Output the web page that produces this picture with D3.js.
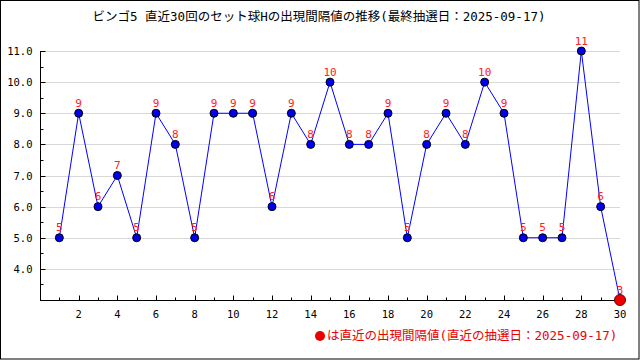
<!DOCTYPE html>
<html lang="ja">
<head>
<meta charset="UTF-8" />
<title>ビンゴ5 セット球H 出現間隔値の推移</title>
<script src="https://cdn.jsdelivr.net/npm/d3@7"></script>
<style>
  body { margin: 0; background: #fff; }
  text { font-family: "DejaVu Sans Mono", "Noto Sans CJK JP", monospace; }
</style>
</head>
<body>
<svg id="chart"></svg>
<script>
  // 直近30回の出現間隔値
  const draws = d3.range(1, 31);
  const intervals = [5, 9, 6, 7, 5, 9, 8, 5, 9, 9, 9, 6, 9, 8, 10, 8, 8, 9, 5, 8, 9, 8, 10, 9, 5, 5, 5, 11, 6, 3];
  const yTicks = [4, 5, 6, 7, 8, 9, 10, 11];
  const xLabels = [2, 4, 6, 8, 10, 12, 14, 16, 18, 20, 22, 24, 26, 28, 30];
  const title = "ビンゴ5 直近30回のセット球Hの出現間隔値の推移(最終抽選日：2025-09-17)";
  const legendText = "は直近の出現間隔値(直近の抽選日：2025-09-17)";

  const W = 640, H = 360;
  const svg = d3.select("#chart").attr("width", W).attr("height", H);

  // 外枠
  svg.append("rect")
    .attr("x", 0.5).attr("y", 0.5)
    .attr("width", W - 1.5).attr("height", H - 1.5)
    .attr("fill", "#fff").attr("stroke", "#000").attr("stroke-width", 1);

  const x = d3.scaleLinear().domain([0, 30]).range([40, 620]);
  const y = d3.scaleLinear().domain([3, 11]).range([300, 51]);

  svg.append("text")
    .attr("x", 319).attr("y", 21)
    .attr("text-anchor", "middle")
    .attr("font-size", 12.5)
    .text(title);

  // グリッド線
  svg.append("g").selectAll("line").data(yTicks).join("line")
    .attr("x1", 41).attr("x2", 620)
    .attr("y1", d => Math.round(y(d)) + 0.5).attr("y2", d => Math.round(y(d)) + 0.5)
    .attr("stroke", "#d8d8d8");

  // Y軸
  const gy = svg.append("g").attr("transform", "translate(40.5,0)");
  gy.append("line").attr("y1", y(11)).attr("y2", y(3)).attr("stroke", "#000");
  gy.selectAll(".maj").data(yTicks).join("line")
    .attr("x1", 0).attr("x2", 5)
    .attr("y1", d => Math.round(y(d)) + 0.5).attr("y2", d => Math.round(y(d)) + 0.5)
    .attr("stroke", "#000");
  gy.selectAll(".min").data(d3.range(3.5, 11, 1)).join("line")
    .attr("x1", 0).attr("x2", 3)
    .attr("y1", d => Math.round(y(d)) + 0.5).attr("y2", d => Math.round(y(d)) + 0.5)
    .attr("stroke", "#000");
  gy.selectAll("text").data(yTicks).join("text")
    .attr("x", -8).attr("y", d => y(d) + 4)
    .attr("text-anchor", "end")
    .attr("font-size", 10.5)
    .text(d => d3.format(".1f")(d));

  // X軸
  const gx = svg.append("g").attr("transform", "translate(0,300.5)");
  gx.append("line").attr("x1", 40).attr("x2", 620).attr("stroke", "#000");
  gx.selectAll(".tk").data(draws).join("line")
    .attr("x1", d => Math.round(x(d)) + 0.5).attr("x2", d => Math.round(x(d)) + 0.5)
    .attr("y1", d => d % 2 === 0 ? -5 : -3).attr("y2", 0)
    .attr("stroke", "#000");
  gx.selectAll("text").data(xLabels).join("text")
    .attr("x", d => x(d)).attr("y", 17)
    .attr("text-anchor", "middle")
    .attr("font-size", 10.5)
    .text(d => d);

  // 折れ線
  const pts = draws.map((d, i) => ({ n: d, v: intervals[i] }));
  svg.append("path")
    .datum(pts)
    .attr("fill", "none")
    .attr("stroke", "#0000ff")
    .attr("stroke-width", 1)
    .attr("d", d3.line().x(d => x(d.n)).y(d => y(d.v)));

  const last = pts[pts.length - 1];
  svg.append("g").selectAll("circle").data(pts.slice(0, -1)).join("circle")
    .attr("cx", d => x(d.n)).attr("cy", d => y(d.v)).attr("r", 4)
    .attr("fill", "#0000ee").attr("stroke", "#000").attr("stroke-width", 1);
  svg.append("circle")
    .attr("cx", x(last.n)).attr("cy", y(last.v)).attr("r", 5.5)
    .attr("fill", "#ee0000").attr("stroke", "#600000").attr("stroke-width", 1);

  // 値ラベル
  svg.append("g").selectAll("text").data(pts).join("text")
    .attr("x", d => x(d.n)).attr("y", d => y(d.v) - 6.5)
    .attr("text-anchor", "middle")
    .attr("font-size", 11)
    .attr("fill", "#ff2020")
    .text(d => d.v);

  // 凡例
  svg.append("circle").attr("cx", 320).attr("cy", 336).attr("r", 5).attr("fill", "#ee0000");
  svg.append("text")
    .attr("x", 327).attr("y", 340)
    .attr("font-size", 12.5)
    .attr("fill", "#ee0000")
    .text(legendText);
</script>
</body>
</html>
